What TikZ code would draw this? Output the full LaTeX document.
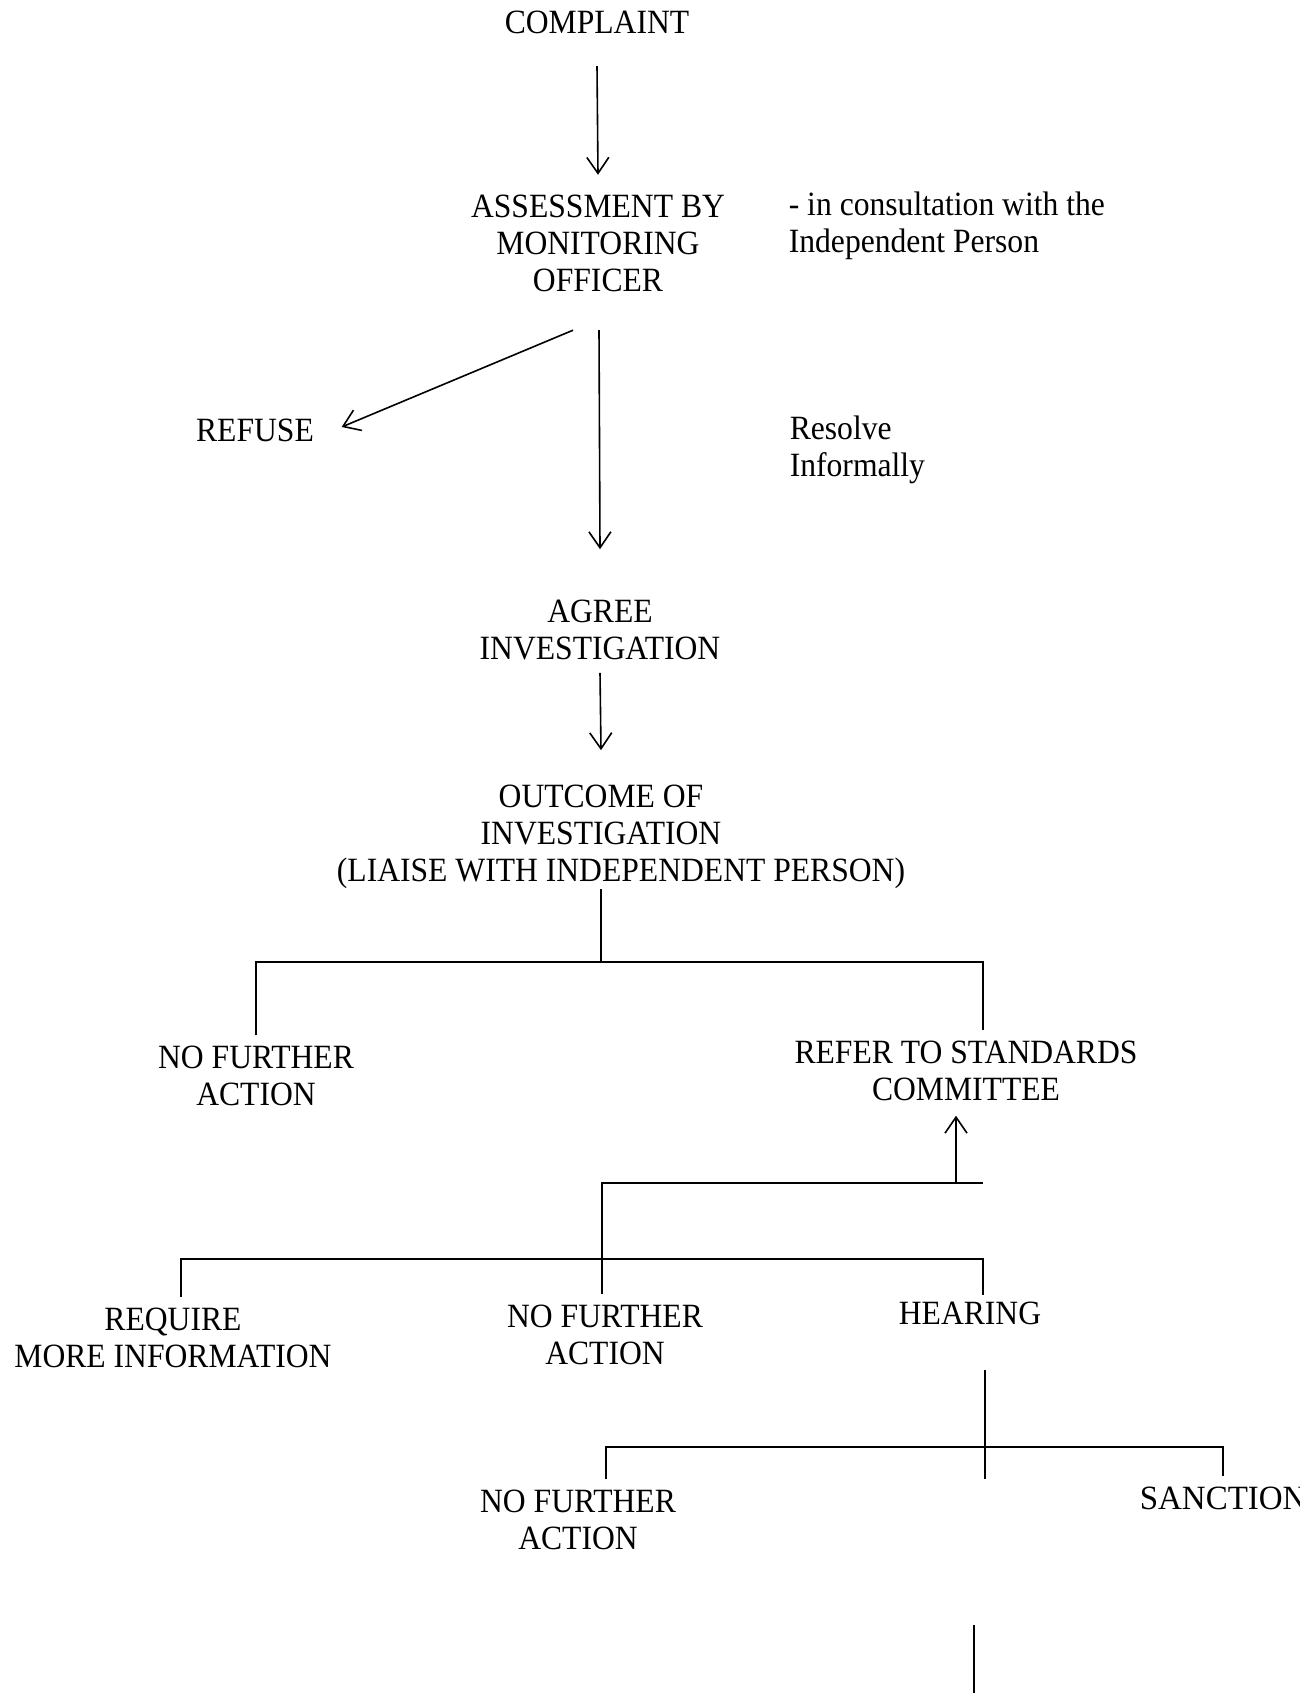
\documentclass[tikz,border=0pt]{standalone}
\usepackage{fontspec}
\setmainfont{Liberation Serif}[FakeStretch=0.93]
\usetikzlibrary{arrows.meta,calc}

\tikzset{
  lbl/.style={inner sep=0pt, align=center, font=\fontsize{34}{37}\selectfont},
  note/.style={lbl, align=left, anchor=north west},
  arr/.style={-{Straight Barb[length=16pt,width=22pt]}},
}

\begin{document}
\begin{tikzpicture}[x=1pt, y=1pt, line width=1.6pt]
  \useasboundingbox (0,0) rectangle (1299,-1693);
  % Main labels
  \foreach \nm/\x/\y/\txt in {
    complaint/597/-22/{COMPLAINT},
    assess/598/-243/{ASSESSMENT BY\\MONITORING\\OFFICER},
    refuse/255/-430/{REFUSE},
    agree/600/-630/{AGREE\\INVESTIGATION},
    outcome/601/-815/{OUTCOME OF\\INVESTIGATION},
    nfa1/256/-1076/{NO FURTHER\\ACTION},
    refer/966/-1071/{REFER TO STANDARDS\\COMMITTEE},
    require/173/-1338/{REQUIRE\\MORE INFORMATION},
    nfa2/605/-1335/{NO FURTHER\\ACTION},
    hearing/970/-1313/{HEARING},
    nfa3/578/-1520/{NO FURTHER\\ACTION}%
  }{
    \node[lbl] (\nm) at (\x,\y) {\txt};
  }
  \node[lbl, anchor=base] (liaise) at (621,-881) {(LIAISE WITH INDEPENDENT PERSON)};
  \node[lbl, anchor=west] (sanction) at (1139,-1498) {\addfontfeatures{FakeStretch=0.97}SANCTION};
  % Side notes
  \node[note] (consult) at (788,-191) {- in consultation with the\\Independent Person};
  \node[note] (resolve) at (789,-415) {Resolve\\Informally};

  % Arrows down the page
  \draw[arr] ($(complaint.south)+(0,-32)$) -- ($(assess.north)+(0,19)$);
  \draw[arr] ($(assess.south)+(-25,-38)$) -- ($(refuse.east)+(27,3)$);
  \draw[arr] ($(assess.south)+(1,-38)$) -- ($(agree.north)+(0,50)$);
  \draw[arr] ($(agree.south)+(0,-12)$) -- ($(outcome.north)+(0,34)$);

  % Outcome split
  \coordinate (split1) at (601,-962);
  \draw (liaise.south -| outcome.south) -- (split1);
  \draw ($(nfa1.north)+(0,10)$) |- (split1) -| ($(refer.north)+(17,10)$);

  % Back to committee
  \coordinate (join2) at (956,-1183);
  \coordinate (join2r) at (983,-1183);
  \draw[arr] (join2) -- ($(refer.south)+(-10,-14)$);
  \draw (join2r) -| ($(nfa2.north)+(-3,10)$);

  % Committee options
  \coordinate (bar2) at (602,-1259);
  \draw ($(require.north)+(8,10)$) |- (bar2) -| ($(hearing.north)+(13,6)$);

  % Hearing split
  \coordinate (split3) at (985,-1447);
  \draw ($(hearing.south)+(15,-45)$) -- ($(split3)+(0,-32)$);
  \draw ($(nfa3.north)+(28,10)$) |- (split3) -| ($(sanction.north)+(0,10)$);

  % Line off the page
  \coordinate (tail) at (974,-1625);
  \coordinate (tailend) at (974,-1700);
  \draw (tail) -- (tailend);
\end{tikzpicture}
\end{document}
